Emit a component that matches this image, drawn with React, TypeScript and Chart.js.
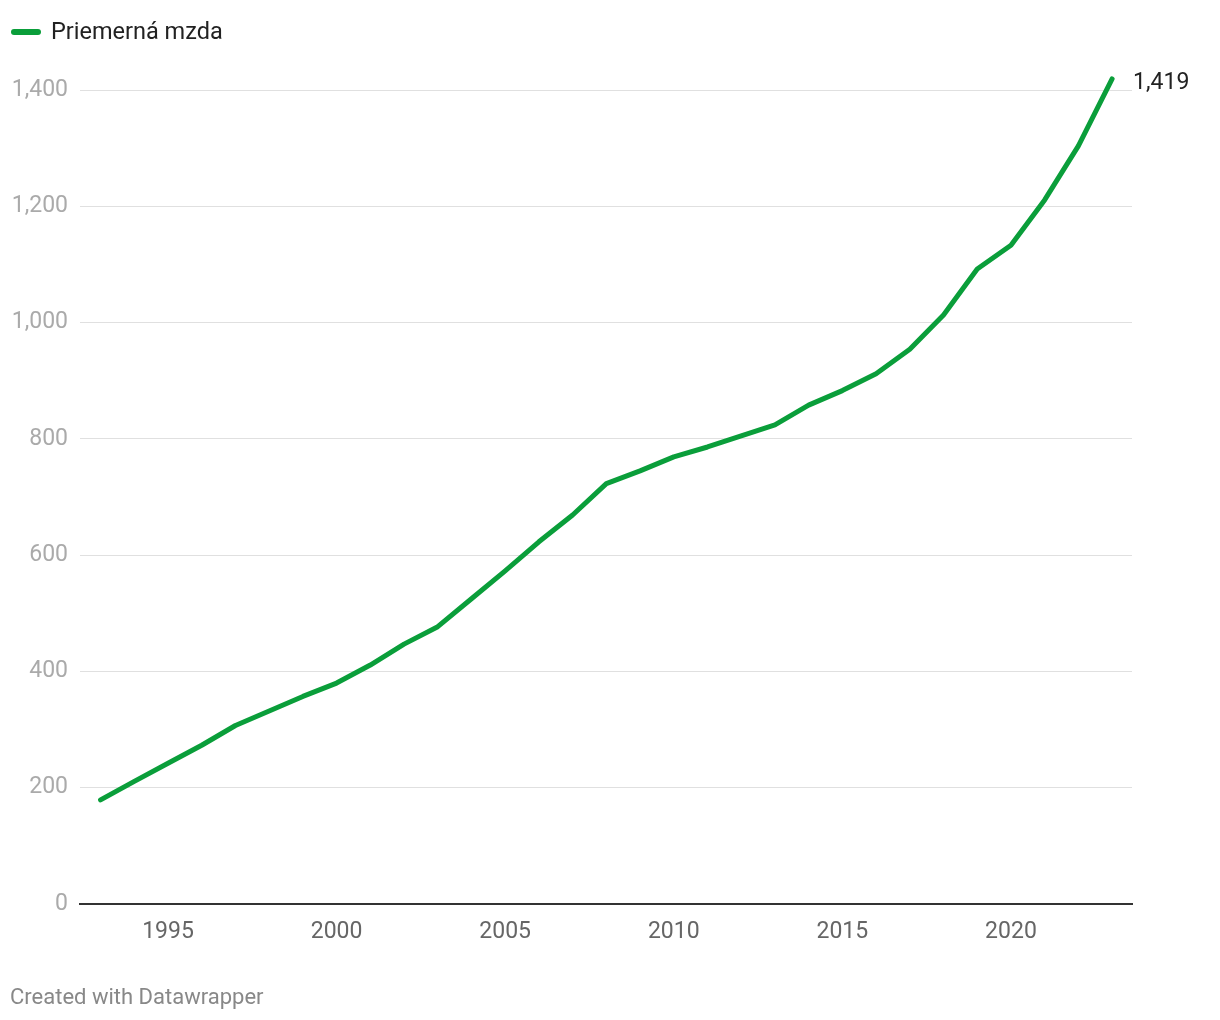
import React, { useEffect, useRef } from "react";
import { Chart, registerables } from "chart.js";

Chart.register(...registerables);

const YEARS = [1993, 1994, 1995, 1996, 1997, 1998, 1999, 2000, 2001, 2002, 2003, 2004, 2005, 2006, 2007, 2008, 2009, 2010, 2011, 2012, 2013, 2014, 2015, 2016, 2017, 2018, 2019, 2020, 2021, 2022, 2023];
const WAGES = [179, 211, 242, 273, 307, 332, 357, 380, 411, 447, 477, 525, 573, 623, 669, 723, 745, 769, 786, 805, 824, 858, 883, 912, 954, 1013, 1092, 1133, 1211, 1304, 1419];
const SERIES_LABEL = "Priemerná mzda";
const X_TICKS = [1995, 2000, 2005, 2010, 2015, 2020];
const Y_TICKS = [0, 200, 400, 600, 800, 1000, 1200, 1400];
const END_LABEL = "1,419";
const FOOTER = "Created with Datawrapper";

const GREEN = "#0a9e3a";
const FONT = "Roboto, 'Noto Sans', sans-serif";

export default function App() {
  const ref = useRef<HTMLCanvasElement | null>(null);

  useEffect(() => {
    if (!ref.current) return;
    const extras = {
      id: "extras",
      afterDatasetsDraw(chart: any) {
        const ctx = chart.ctx;
        ctx.save();
        // legend
        ctx.strokeStyle = GREEN;
        ctx.lineWidth = 6;
        ctx.lineCap = "round";
        ctx.beginPath();
        ctx.moveTo(14, 32);
        ctx.lineTo(38, 32);
        ctx.stroke();
        ctx.fillStyle = "#222";
        ctx.font = `23.5px ${FONT}`;
        ctx.textBaseline = "middle";
        ctx.textAlign = "left";
        ctx.fillText(SERIES_LABEL, 51, 33);
        // end label
        const meta = chart.getDatasetMeta(0);
        const last = meta.data[meta.data.length - 1];
        ctx.font = `23px ${FONT}`;
        ctx.fillText(END_LABEL, last.x + 21, last.y + 4);
        // footer
        ctx.fillStyle = "#888";
        ctx.font = `22px ${FONT}`;
        ctx.fillText(FOOTER, 10, 998);
        ctx.restore();
      },
    };

    const chart = new Chart(ref.current, {
      type: "line",
      data: {
        datasets: [
          {
            label: SERIES_LABEL,
            data: YEARS.map((y, i) => ({ x: y, y: WAGES[i] })),
            borderColor: GREEN,
            borderWidth: 5,
            borderCapStyle: "round",
            borderJoinStyle: "round",
            pointRadius: 0,
            tension: 0,
            fill: false,
          },
        ],
      },
      options: {
        animation: false,
        responsive: false,
        maintainAspectRatio: false,
        layout: { padding: { left: 0, right: 88, top: 70, bottom: 0 } },
        plugins: {
          legend: { display: false },
          tooltip: { enabled: false },
        },
        scales: {
          x: {
            type: "linear",
            min: 1992.39,
            max: 2023.59,
            afterBuildTicks: (s: any) => {
              s.ticks = X_TICKS.map((v) => ({ value: v }));
            },
            afterFit: (s: any) => {
              s.height = 116;
            },
            grid: { display: false, drawTicks: false },
            border: { display: true, color: "#333", width: 2 },
            ticks: {
              color: "#666",
              font: { family: FONT, size: 23 },
              padding: 14,
              maxRotation: 0,
              autoSkip: false,
              callback: (v: any) => String(v),
            },
          },
          y: {
            type: "linear",
            min: 0,
            max: 1434.4,
            afterBuildTicks: (s: any) => {
              s.ticks = Y_TICKS.map((v) => ({ value: v }));
            },
            afterFit: (s: any) => {
              s.width = 80;
            },
            grid: {
              color: "#e0e0e0",
              lineWidth: 1,
              drawTicks: false,
            },
            border: { display: false },
            ticks: {
              color: "#aaa",
              font: { family: FONT, size: 23 },
              padding: 12,
              callback: (v: any) => Number(v).toLocaleString("en-US"),
            },
          },
        },
      },
      plugins: [extras],
    });
    return () => chart.destroy();
  }, []);

  return (
    <div style={{ position: "absolute", left: 0, top: 0, width: 1220, height: 1020, background: "#fff" }}>
      <canvas ref={ref} width={1220} height={1020} style={{ width: 1220, height: 1020, display: "block" }} />
    </div>
  );
}
